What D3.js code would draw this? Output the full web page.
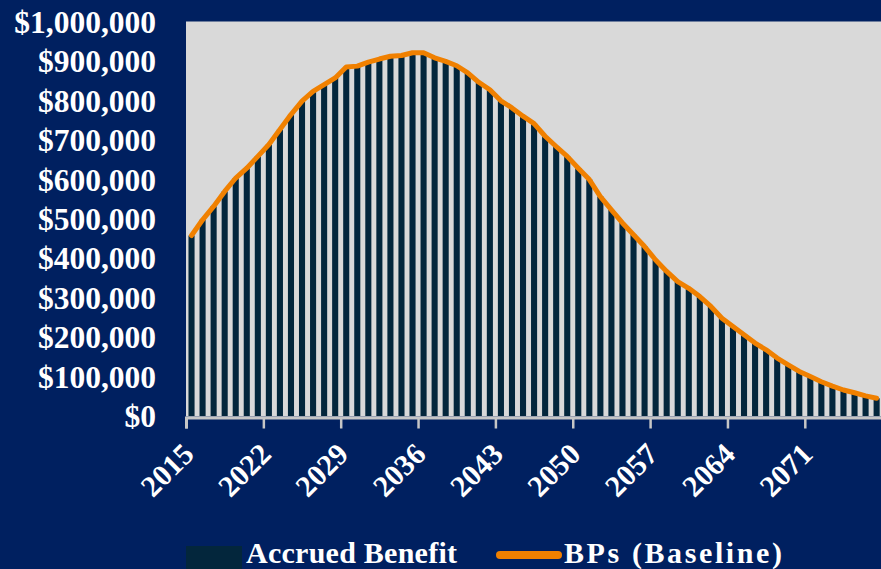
<!DOCTYPE html>
<html>
<head>
<meta charset="utf-8">
<script src="https://cdn.jsdelivr.net/npm/d3@7"></script>
<style>
  html, body { margin: 0; padding: 0; background: #002060; overflow: hidden; }
  svg { display: block; }
  text { font-family: "Liberation Serif", "Times New Roman", serif; font-weight: bold; fill: #ffffff; }
</style>
</head>
<body>
<script>
const years = [2015,2016,2017,2018,2019,2020,2021,2022,2023,2024,2025,2026,2027,2028,2029,2030,2031,2032,2033,2034,2035,2036,2037,2038,2039,2040,2041,2042,2043,2044,2045,2046,2047,2048,2049,2050,2051,2052,2053,2054,2055,2056,2057,2058,2059,2060,2061,2062,2063,2064,2065,2066,2067,2068,2069,2070,2071,2072,2073,2074,2075,2076,2077];
const accruedBenefit = [458000,498000,532000,570000,604000,629000,659000,689000,727000,765000,799000,824000,841000,858000,886000,888000,898000,906000,913000,915000,922000,922000,909000,900000,889000,871000,847000,828000,800000,782000,761000,742000,710000,684000,659000,629000,600000,557000,523000,490000,460000,430000,396000,367000,341000,324000,303000,278000,248000,227000,206000,185000,168000,147000,130000,113000,100000,87000,76000,66000,59000,51000,45000];
const bpsBaseline = [458000,498000,532000,570000,604000,629000,659000,689000,727000,765000,799000,824000,841000,858000,886000,888000,898000,906000,913000,915000,922000,922000,909000,900000,889000,871000,847000,828000,800000,782000,761000,742000,710000,684000,659000,629000,600000,557000,523000,490000,460000,430000,396000,367000,341000,324000,303000,278000,248000,227000,206000,185000,168000,147000,130000,113000,100000,87000,76000,66000,59000,51000,45000];
const yTicks = [0,100000,200000,300000,400000,500000,600000,700000,800000,900000,1000000];
const xLabelYears = [2015,2022,2029,2036,2043,2050,2057,2064,2071];
const seriesNames = ["Accrued Benefit", "BPs (Baseline)"];

(function () {
const W = 881, H = 569;
const BG = "#002060", PLOT = "#d9d9d9", BAR = "#03263c", ORANGE = "#f08000";
const pLeft = 186, pTop = 22, pBottom = 416;
const step = 11.05;
const pRight = pLeft + step * years.length;
const FONT = "'Liberation Serif', 'Times New Roman', serif";

const svg = d3.select("body").append("svg").attr("width", W).attr("height", H);
svg.append("rect").attr("width", W).attr("height", H).attr("fill", BG);

const x = d3.scaleBand().domain(years).range([pLeft, pRight]).paddingInner(0.45).paddingOuter(0.225);
const y = d3.scaleLinear().domain([0, 1000000]).range([pBottom, pTop]);

svg.append("rect").attr("x", pLeft).attr("y", pTop - 0.5).attr("width", pRight - pLeft).attr("height", pBottom - pTop + 1).attr("fill", PLOT);

// bars
svg.append("g").selectAll("rect").data(years).join("rect")
  .attr("x", d => x(d)).attr("width", x.bandwidth())
  .attr("y", (d, i) => y(accruedBenefit[i]))
  .attr("height", (d, i) => y(0) - y(accruedBenefit[i]))
  .attr("fill", BAR);

// line
const line = d3.line()
  .x((d, i) => x(years[i]) + x.bandwidth() / 2)
  .y(d => y(d));
svg.append("path").datum(bpsBaseline).attr("d", line)
  .attr("fill", "none").attr("stroke", ORANGE).attr("stroke-width", 5)
  .attr("stroke-linejoin", "round").attr("stroke-linecap", "round");

// x axis line + ticks at category boundaries
const bScale = d3.scaleLinear().domain([0, years.length]).range([pLeft, pRight]);
const xAxisG = svg.append("g").attr("transform", `translate(0,${pBottom + 1.5})`)
  .call(d3.axisBottom(bScale).tickValues(d3.range(0, years.length, 7)).tickSize(11).tickFormat(""));
xAxisG.select(".domain").attr("stroke", "#c6c6c6").attr("stroke-width", 3);
xAxisG.selectAll(".tick line").attr("stroke", "#c6c6c6").attr("stroke-width", 2.5);

// x labels
const xLab = svg.append("g").attr("transform", `translate(0,${pBottom})`)
  .call(d3.axisBottom(x).tickValues(xLabelYears).tickSize(0).tickPadding(0));
xLab.select(".domain").remove();
xLab.selectAll(".tick text")
  .attr("font-size", 30).attr("text-anchor", "end").attr("dy", 0).attr("y", 0)
  .attr("transform", "translate(4,40) rotate(-45)")
  .style("font-family", FONT).style("font-weight", "bold").attr("fill", "#fff");

// y axis
const yAx = svg.append("g").attr("transform", `translate(${pLeft},0)`)
  .call(d3.axisLeft(y).tickValues(yTicks).tickSize(0).tickPadding(30)
    .tickFormat(d => "$" + d3.format(",")(d)));
yAx.select(".domain").remove();
yAx.selectAll(".tick text").attr("font-size", 31.5).attr("dy", "0.33em")
  .style("font-family", FONT).style("font-weight", "bold").attr("fill", "#fff");

// legend
const lg = svg.append("g");
lg.append("rect").attr("x", 186).attr("y", 546).attr("width", 56).attr("height", 24).attr("fill", BAR);
lg.append("text").attr("x", 246).attr("y", 563).attr("font-size", 30)
  .attr("textLength", 211).attr("lengthAdjust", "spacing").text(seriesNames[0]);
lg.append("line").attr("x1", 500).attr("x2", 558).attr("y1", 555).attr("y2", 555)
  .attr("stroke", ORANGE).attr("stroke-width", 8).attr("stroke-linecap", "round");
lg.append("text").attr("x", 564).attr("y", 563).attr("font-size", 30)
  .attr("textLength", 218).attr("lengthAdjust", "spacing").text(seriesNames[1]);
})();
</script>
</body>
</html>
